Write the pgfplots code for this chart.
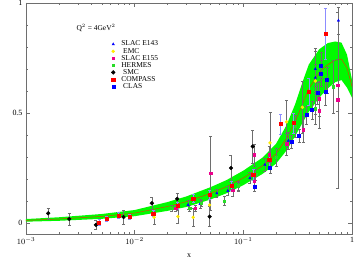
\documentclass[border=0pt]{standalone}
\usepackage{fontspec}
\setmainfont{Liberation Serif}
\usepackage{pgfplots}
\usepackage{pgfplotstable}
\pgfplotsset{compat=1.18}
\definecolor{bandgreen}{RGB}{0,250,0}
\definecolor{linered}{RGB}{215,70,0}
\definecolor{errgray}{RGB}{110,110,110}
\definecolor{errblue}{RGB}{140,140,255}
\definecolor{emcyellow}{RGB}{255,235,0}
\definecolor{hermesgreen}{RGB}{40,220,40}

\pgfplotstableread{
x c
0.001 0.012
0.002 0.018
0.005 0.030
0.01 0.045
0.02 0.075
0.03 0.097
0.05 0.135
0.07 0.165
0.1 0.205
0.15 0.260
0.2 0.315
0.25 0.385
0.3 0.460
0.35 0.540
0.4 0.610
0.5 0.685
0.6 0.720
0.7 0.740
0.8 0.745
0.9 0.705
1.0 0.620
}\central

\pgfplotstableread{
x y
0.001 0.018
0.002 0.026
0.005 0.041
0.01 0.059
0.02 0.095
0.03 0.121
0.05 0.163
0.07 0.195
0.1 0.238
0.15 0.297
0.2 0.360
0.25 0.445
0.3 0.540
0.35 0.640
0.4 0.720
0.5 0.790
0.6 0.818
0.7 0.825
0.8 0.820
0.9 0.765
1.0 0.650
1.0 0.570
0.9 0.615
0.8 0.650
0.7 0.640
0.6 0.612
0.5 0.570
0.4 0.505
0.35 0.455
0.3 0.395
0.25 0.330
0.2 0.270
0.15 0.223
0.1 0.172
0.07 0.135
0.05 0.107
0.03 0.073
0.02 0.055
0.01 0.031
0.005 0.019
0.002 0.010
0.001 0.006
}\band

\pgfplotstableread{
x y e
0.0016 0.044 0.025
0.0025 0.018 0.027
0.0044 -0.009 0.020
0.0079 0.027 0.032
0.0144 0.090 0.027
0.0246 0.110 0.027
0.049 0.029 0.045
0.077 0.250 0.060
0.122 0.348 0.075
}\smc

\pgfplotstableread{
x y e
0.0047 0.003 0.012
0.0055 0.018 0.012
0.0071 0.035 0.012
0.009 0.030 0.012
0.0148 0.044 0.015
0.0248 0.078 0.015
0.0346 0.111 0.018
0.049 0.128 0.020
0.078 0.170 0.022
0.123 0.219 0.025
0.173 0.288 0.030
0.22 0.450 0.046
0.29 0.455 0.045
0.40 0.597 0.060
0.57 0.860 0.117
}\compass

\pgfplotstableread{
x y e
0.0151 0.026 0.030
0.025 0.029 0.030
0.0346 0.026 0.040
0.049 0.082 0.050
0.176 0.364 0.140
0.25 0.460 0.100
0.35 0.526 0.120
0.46 0.645 0.150
}\emc

\pgfplotstableread{
x y e
0.024 0.067 0.015
0.036 0.068 0.015
0.05 0.226 0.170
0.08 0.150 0.030
0.126 0.310 0.050
0.126 0.190 0.030
0.173 0.310 0.040
0.25 0.360 0.050
0.355 0.425 0.060
0.50 0.510 0.080
0.50 0.565 0.080
0.74 0.626 0.120
0.74 0.560 0.400
}\esf

\pgfplotstableread{
x y e
0.022 0.067 0.015
0.032 0.068 0.015
0.041 0.090 0.015
0.067 0.100 0.020
0.09 0.170 0.020
0.13 0.220 0.025
0.2 0.300 0.040
0.3 0.440 0.050
0.46 0.520 0.070
0.67 0.620 0.120
}\hermes

\pgfplotstableread{
x y e
0.031 0.082 0.020
0.04 0.087 0.020
0.057 0.135 0.020
0.072 0.146 0.020
0.09 0.166 0.020
0.115 0.204 0.025
0.158 0.265 0.030
0.26 0.374 0.040
0.46 0.660 0.060
0.46 0.700 0.080
0.75 0.920 0.060
}\eof

\pgfplotstableread{
x y e
0.126 0.166 0.020
0.176 0.250 0.025
0.278 0.368 0.030
0.326 0.397 0.030
0.38 0.490 0.040
0.43 0.513 0.040
0.48 0.590 0.050
0.52 0.680 0.060
0.52 0.717 0.060
0.57 0.595 0.060
0.59 0.650 0.060
}\clas

\begin{document}
\begin{tikzpicture}
\path[use as bounding box] (-26bp,-25bp) rectangle (328bp,234bp);
\begin{axis}[
  at={(0,0)}, anchor=south west,
  scale only axis, width=326bp, height=231bp,
  xmode=log, xmin=1e-3, xmax=1,
  ymin=-0.05, ymax=1.0,
  xtick={0.001,0.01,0.1,1},
  xticklabels={$10^{-3}$,$10^{-2}$,$10^{-1}$,1},
  ytick={0,0.5,1},
  yticklabels={0,0.5,1},
  minor y tick num=4,
  axis line style={errgray},
  tick style={errgray, line width=0.4pt},
  major tick length=4bp, minor tick length=2bp,
  ticklabel style={font=\fontsize{8}{8}\selectfont},
  xlabel={x}, xlabel style={font=\fontsize{8}{8}\selectfont, yshift=-3bp},
  legend style={at={(rel axis cs:0.252,0.85)}, anchor=north west, draw=none, fill=none,
    font=\fontsize{7.5}{7.5}\selectfont, row sep=-1.8pt, nodes={inner sep=1.2pt},
    /tikz/every odd column/.append style={column sep=5bp}},
  legend cell align=left,
  error bars/error bar style={errgray, line width=0.45pt},
  error bars/error mark options={rotate=90, mark size=1.5bp, errgray, line width=0.45pt},
]
\addplot[draw=none, fill=bandgreen, forget plot] table[x=x, y=y] {\band} -- cycle;
\addplot[linered, line width=0.5pt, forget plot] table[x=x, y=c] {\central};

\addplot[only marks, mark=triangle*, mark size=1.4bp, blue, error bars/.cd, y dir=both, y explicit] table[x=x,y=y,y error=e] {\eof};
\addlegendentry{SLAC E143}
\addplot[only marks, mark=*, mark size=1.5bp, emcyellow, error bars/.cd, y dir=both, y explicit] table[x=x,y=y,y error=e] {\emc};
\addlegendentry{\ EMC}
\addplot[only marks, mark=square*, mark size=1.3bp, magenta, error bars/.cd, y dir=both, y explicit] table[x=x,y=y,y error=e] {\esf};
\addlegendentry{SLAC E155}
\addplot[only marks, mark=square*, mark size=1.2bp, hermesgreen, error bars/.cd, y dir=both, y explicit] table[x=x,y=y,y error=e] {\hermes};
\addlegendentry{HERMES}
\addplot[only marks, mark=*, mark size=1.9bp, black, error bars/.cd, y dir=both, y explicit] table[x=x,y=y,y error=e] {\smc};
\addlegendentry{\ SMC}
\addplot[only marks, mark=square*, mark size=1.6bp, red, error bars/.cd, y dir=both, y explicit, error bar style={errblue, line width=0.45pt}, error mark options={rotate=90, mark size=1.5bp, errblue, line width=0.45pt}] table[x=x,y=y,y error=e] {\compass};
\addlegendentry{COMPASS}
\addplot[only marks, mark=square*, mark size=1.5bp, blue, error bars/.cd, y dir=both, y explicit] table[x=x,y=y,y error=e] {\clas};
\addlegendentry{\ CLAS}

\node[font=\fontsize{7.5}{7.5}\selectfont] at (rel axis cs:0.215,0.892) {Q$^2$ = 4GeV$^2$};
\node[rotate=90, font=\fontsize{7.5}{7.5}\selectfont] at ([xshift=-18bp]rel axis cs:0,0.69) {A$_1^{\mathrm{p}}$(x,Q$^2$)};
\end{axis}
\end{tikzpicture}
\end{document}
